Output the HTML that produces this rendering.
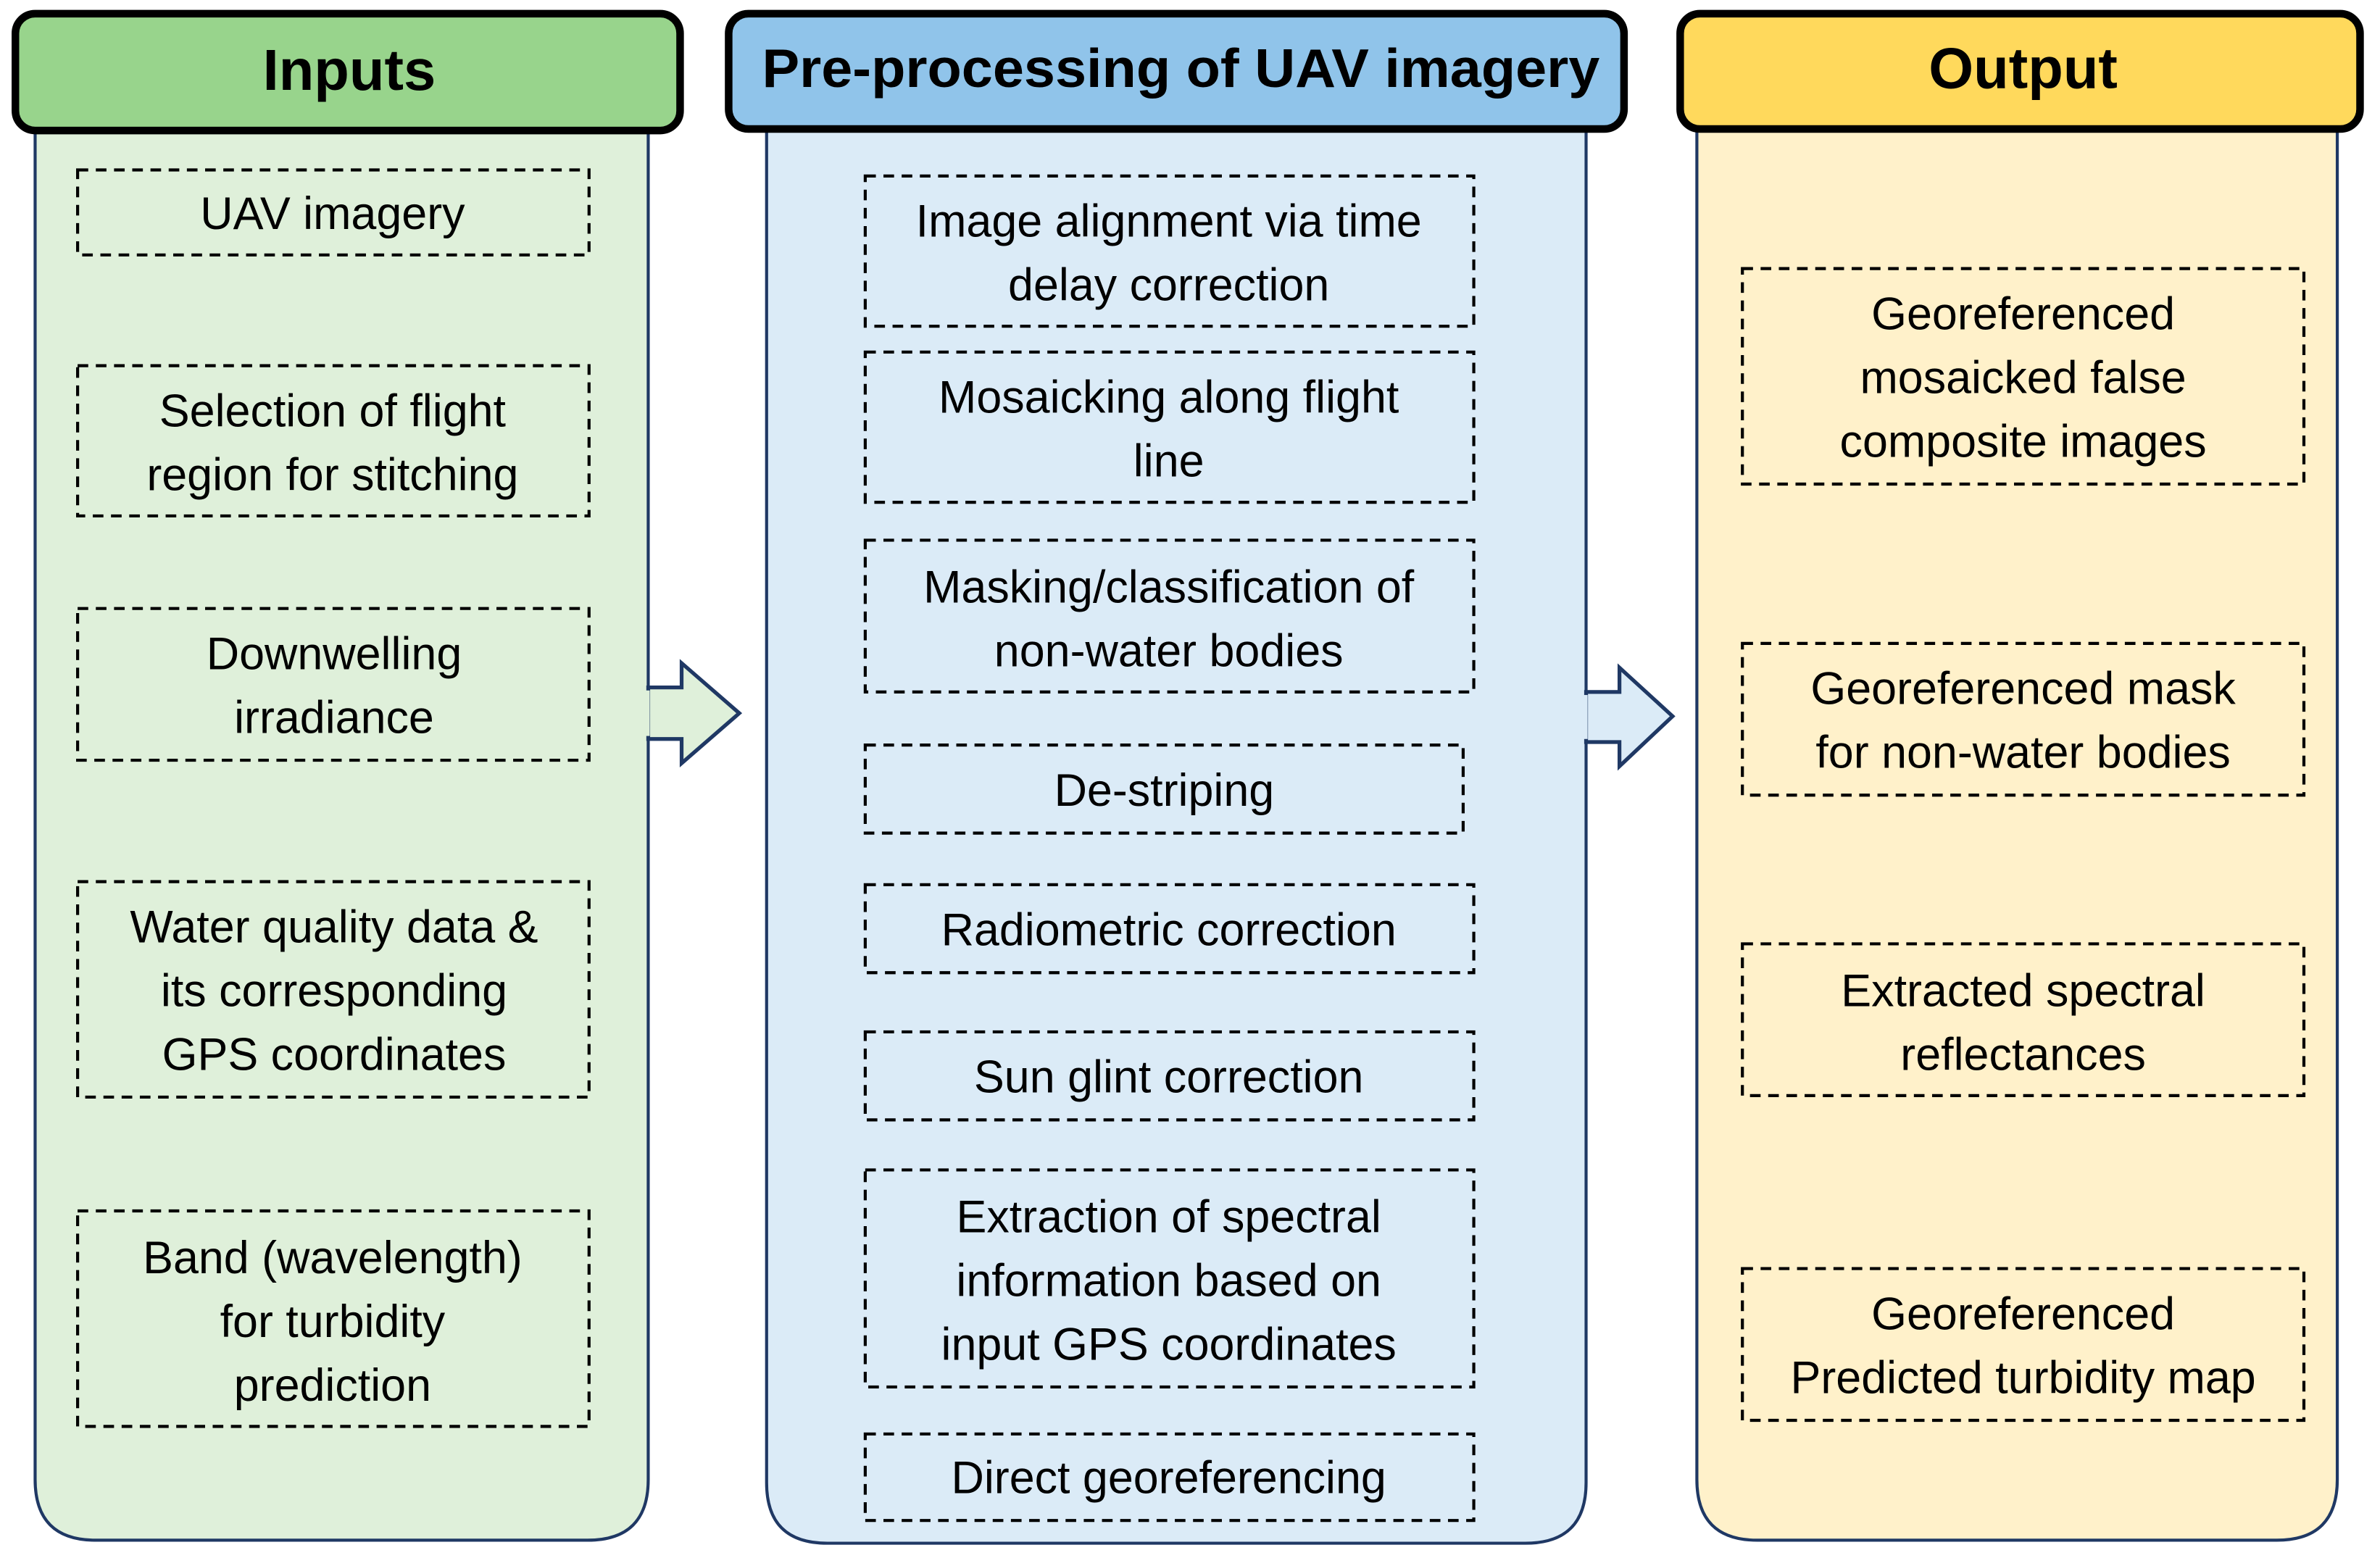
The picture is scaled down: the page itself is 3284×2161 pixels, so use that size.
<!DOCTYPE html>
<html><head><meta charset="utf-8"><style>html,body{margin:0;padding:0;background:#fff;}svg{display:block;}</style></head>
<body>
<svg xmlns="http://www.w3.org/2000/svg" width="3284" height="2161" viewBox="0 0 1568 1032">
<rect width="1568" height="1032" fill="#fff"/>
<path d="M23 80 H427 V975 Q427 1015 387 1015 H63 Q23 1015 23 975 Z" fill="#DFF0DA" stroke="#1F3864" stroke-width="2"/>
<path d="M505 80 H1045 V977 Q1045 1017 1005 1017 H545 Q505 1017 505 977 Z" fill="#DBEBF7" stroke="#1F3864" stroke-width="2"/>
<path d="M1118 80 H1540 V975 Q1540 1015 1500 1015 H1158 Q1118 1015 1118 975 Z" fill="#FFF1CA" stroke="#1F3864" stroke-width="2"/>
<path d="M427 453 H449 V437 L487 470 L449 503 V487 H427 Z" fill="#DFF0DA" stroke="#1F3864" stroke-width="2.5"/>
<rect x="425" y="455" width="3" height="30" fill="#DFF0DA"/>
<path d="M1045 456 H1067 V440 L1102 472 L1067 505 V489 H1045 Z" fill="#DBEBF7" stroke="#1F3864" stroke-width="2.5"/>
<rect x="1043" y="458" width="3" height="29" fill="#DBEBF7"/>
<rect x="10" y="9" width="438" height="77" rx="13" fill="#98D48C" stroke="#000" stroke-width="5"/>
<rect x="480" y="9" width="590" height="76" rx="13" fill="#90C4EA" stroke="#000" stroke-width="5"/>
<rect x="1107" y="9" width="448" height="76" rx="13" fill="#FFD95C" stroke="#000" stroke-width="5"/>
<g font-family="Liberation Sans, sans-serif" font-weight="bold" font-size="38" text-anchor="middle" dominant-baseline="central" fill="#000">
<text x="230" y="46">Inputs</text>
<text x="778" y="45" font-size="36" textLength="552" lengthAdjust="spacingAndGlyphs">Pre-processing of UAV imagery</text>
<text x="1333" y="45">Output</text>
</g>
<g fill="none" stroke="#000" stroke-width="2" stroke-dasharray="7,5">
<rect x="51" y="112" width="337" height="56"/>
<rect x="51" y="241" width="337" height="99"/>
<rect x="51" y="401" width="337" height="100"/>
<rect x="51" y="581" width="337" height="142"/>
<rect x="51" y="798" width="337" height="142"/>
<rect x="570" y="116" width="401" height="99"/>
<rect x="570" y="232" width="401" height="99"/>
<rect x="570" y="356" width="401" height="100"/>
<rect x="570" y="491" width="394" height="58"/>
<rect x="570" y="583" width="401" height="58"/>
<rect x="570" y="680" width="401" height="58"/>
<rect x="570" y="771" width="401" height="143"/>
<rect x="570" y="945" width="401" height="57"/>
<rect x="1148" y="177" width="370" height="142"/>
<rect x="1148" y="424" width="370" height="100"/>
<rect x="1148" y="622" width="370" height="100"/>
<rect x="1148" y="836" width="370" height="100"/>
</g>
<g font-family="Liberation Sans, sans-serif" font-size="30" text-anchor="middle" dominant-baseline="central" fill="#000">
<text x="219" y="141">UAV imagery</text>
<text x="219" y="271">Selection of flight</text>
<text x="219" y="313">region for stitching</text>
<text x="220" y="431">Downwelling</text>
<text x="220" y="473">irradiance</text>
<text x="220" y="611">Water quality data &amp;</text>
<text x="220" y="653">its corresponding</text>
<text x="220" y="695">GPS coordinates</text>
<text x="219" y="829">Band (wavelength)</text>
<text x="219" y="871">for turbidity</text>
<text x="219" y="913">prediction</text>
<text x="770" y="146">Image alignment via time</text>
<text x="770" y="188">delay correction</text>
<text x="770" y="262">Mosaicking along flight</text>
<text x="770" y="304">line</text>
<text x="770" y="387">Masking/classification of</text>
<text x="770" y="429">non-water bodies</text>
<text x="767" y="521">De-striping</text>
<text x="770" y="613">Radiometric correction</text>
<text x="770" y="710">Sun glint correction</text>
<text x="770" y="802">Extraction of spectral</text>
<text x="770" y="844">information based on</text>
<text x="770" y="886">input GPS coordinates</text>
<text x="770" y="974">Direct georeferencing</text>
<text x="1333" y="207">Georeferenced</text>
<text x="1333" y="249">mosaicked false</text>
<text x="1333" y="291">composite images</text>
<text x="1333" y="454">Georeferenced mask</text>
<text x="1333" y="496">for non-water bodies</text>
<text x="1333" y="653">Extracted spectral</text>
<text x="1333" y="695">reflectances</text>
<text x="1333" y="866">Georeferenced</text>
<text x="1333" y="908">Predicted turbidity map</text>
</g>
</svg>
</body></html>
